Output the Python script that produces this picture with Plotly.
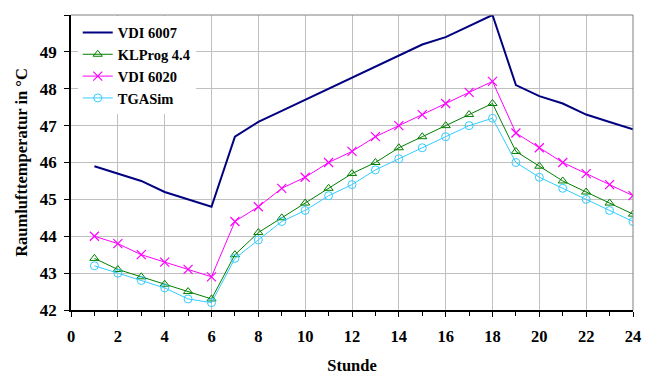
import plotly.graph_objects as go

hours = list(range(1, 25))
vdi6007 = [45.9, 45.7, 45.5, 45.2, 45.0, 44.8, 46.7, 47.1, 47.4, 47.7, 48.0, 48.3,
           48.6, 48.9, 49.2, 49.4, 49.7, 50.0, 48.1, 47.8, 47.6, 47.3, 47.1, 46.9]
klprog = [43.4, 43.1, 42.9, 42.7, 42.5, 42.3, 43.5, 44.1, 44.5, 44.9, 45.3, 45.7,
          46.0, 46.4, 46.7, 47.0, 47.3, 47.6, 46.3, 45.9, 45.5, 45.2, 44.9, 44.6]
vdi6020 = [44.0, 43.8, 43.5, 43.3, 43.1, 42.9, 44.4, 44.8, 45.3, 45.6, 46.0, 46.3,
           46.7, 47.0, 47.3, 47.6, 47.9, 48.2, 46.8, 46.4, 46.0, 45.7, 45.4, 45.1]
tgasim = [43.2, 43.0, 42.8, 42.6, 42.3, 42.2, 43.4, 43.9, 44.4, 44.7, 45.1, 45.4,
          45.8, 46.1, 46.4, 46.7, 47.0, 47.2, 46.0, 45.6, 45.3, 45.0, 44.7, 44.4]

font_family = "Liberation Serif, Times New Roman, serif"

fig = go.Figure()
fig.add_trace(go.Scatter(x=hours, y=vdi6007, name="VDI 6007", mode="lines",
                         line=dict(color="#000080", width=2)))
fig.add_trace(go.Scatter(x=hours, y=klprog, name="KLProg 4.4", mode="lines+markers",
                         line=dict(color="#008000", width=1),
                         marker=dict(symbol="triangle-up-open", size=8, color="#008000",
                                     line=dict(width=1))))
fig.add_trace(go.Scatter(x=hours, y=vdi6020, name="VDI 6020", mode="lines+markers",
                         line=dict(color="#FF00FF", width=1),
                         marker=dict(symbol="x-thin-open", size=9, color="#FF00FF",
                                     line=dict(width=1.2, color="#FF00FF"))))
fig.add_trace(go.Scatter(x=hours, y=tgasim, name="TGASim", mode="lines+markers",
                         line=dict(color="#33CCFF", width=1),
                         marker=dict(symbol="circle-open", size=8, color="#33CCFF",
                                     line=dict(width=1))))

fig.update_layout(
    width=653, height=376,
    margin=dict(l=63, r=28, t=7, b=74),
    paper_bgcolor="white", plot_bgcolor="white",
    font=dict(family=font_family, size=14, color="black"),
    showlegend=True,
    legend=dict(x=0.012, y=0.995, xanchor="left", yanchor="top",
                bgcolor="white", borderwidth=0,
                font=dict(family=font_family, size=14.5, color="black", weight="bold"),
                tracegroupgap=0, itemwidth=30),
    xaxis=dict(range=[0, 24], dtick=2, tick0=0, showgrid=True, gridcolor="#c0c0c0",
               gridwidth=1, ticks="outside", ticklen=5, tickcolor="black",
               showline=True, linecolor="black", linewidth=1.5, mirror=False,
               zeroline=False, ticklabelstandoff=5,
               minor=dict(dtick=1, ticks="outside", ticklen=4, tickcolor="black", showgrid=False),
               tickfont=dict(family=font_family, size=16.5, weight="bold"),
               title=dict(text="<b>Stunde</b>", font=dict(family=font_family, size=16.5), standoff=15)),
    yaxis=dict(range=[42, 50], dtick=1, showgrid=True, gridcolor="#c0c0c0",
               gridwidth=1, ticks="outside", ticklen=5, tickcolor="black",
               showline=True, linecolor="black", linewidth=1.5, zeroline=False,
               ticklabelstandoff=4,
               tickfont=dict(family=font_family, size=17, weight="bold"),
               title=dict(text="<b>Raumlufttemperatur in °C</b>",
                          font=dict(family=font_family, size=16.5), standoff=8)),
)

# gray frame on top and right
fig.add_shape(type="line", xref="paper", yref="paper", x0=0, x1=1, y0=1, y1=1,
              line=dict(color="#808080", width=1))
fig.add_shape(type="line", xref="paper", yref="paper", x0=1, x1=1, y0=0, y1=1,
              line=dict(color="#808080", width=1))

fig.write_html("out.html")
